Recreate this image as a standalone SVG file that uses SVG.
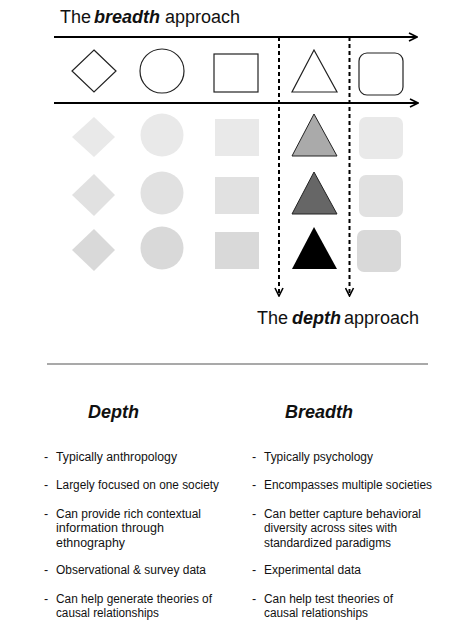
<svg xmlns="http://www.w3.org/2000/svg" width="474" height="636" viewBox="0 0 474 636">
<style>
text{font-family:"Liberation Sans",Arial,sans-serif;fill:#111}
.t{font-size:18px}
.bi{font-weight:bold;font-style:italic}
.b{font-size:12.5px}
.o{fill:#fff;stroke:#222;stroke-width:1.2}
.g2{fill:#e9e9e9}
.g3{fill:#e1e1e1}
.g4{fill:#d9d9d9}
.ax{stroke:#000;stroke-width:2;fill:none}
.dx{stroke:#000;stroke-width:2;fill:none;stroke-dasharray:4 3}
</style>
<defs>
<marker id="ah" viewBox="0 0 10 10" refX="9" refY="5" markerWidth="5" markerHeight="5" orient="auto" markerUnits="strokeWidth">
<path d="M1,1 L9,5 L1,9" fill="none" stroke="#000" stroke-width="1.6"/>
</marker>
</defs>
<rect width="474" height="636" fill="#fff"/>
<g id="title-breadth">
<text class="t" y="23"><tspan x="60">The</tspan><tspan x="94" class="bi">breadth</tspan><tspan x="165">approach</tspan></text>
</g>
<g id="row1">
<polygon class="o" points="94,50 116,71 94,92 72,71"/>
<circle class="o" cx="162" cy="71" r="22"/>
<rect class="o" x="214" y="54" width="44" height="38"/>
<polygon class="o" points="314,50 337,92 292,92"/>
<rect class="o" x="359" y="53" width="44" height="42" rx="8"/>
</g>
<g id="row2">
<polygon class="g2" points="94,117 115,137 94,157 72,137"/>
<circle class="g2" cx="162" cy="135" r="21.5"/>
<rect class="g2" x="215" y="119" width="44" height="37"/>
<polygon points="314,114 337,156 292,156" fill="#aaa" stroke="#222" stroke-width="1"/>
<rect class="g2" x="359" y="117" width="44" height="42" rx="7"/>
</g>
<g id="row3">
<polygon class="g3" points="94,174 115,195 94,216 72,195"/>
<circle class="g3" cx="162" cy="193" r="21.5"/>
<rect class="g3" x="215" y="177" width="44" height="37"/>
<polygon points="314,172 337,214 292,214" fill="#666" stroke="#222" stroke-width="1"/>
<rect class="g3" x="359" y="175" width="44" height="42" rx="7"/>
</g>
<g id="row4">
<polygon class="g4" points="94,229 115,250 94,271 72,250"/>
<circle class="g4" cx="162" cy="248" r="21.5"/>
<rect class="g4" x="215" y="232" width="44" height="37"/>
<polygon points="314,227 337,269 292,269" fill="#000"/>
<rect class="g4" x="357" y="230" width="44" height="42" rx="7"/>
</g>
<g id="connectors">
<line class="ax" x1="54" y1="37" x2="417" y2="37" marker-end="url(#ah)"/>
<line class="ax" x1="54" y1="103" x2="418" y2="103" marker-end="url(#ah)"/>
<line class="dx" x1="279" y1="37" x2="279" y2="296" marker-end="url(#ah)"/>
<line class="dx" x1="349.5" y1="37" x2="349.5" y2="296" marker-end="url(#ah)"/>
</g>
<g id="title-depth">
<text class="t" y="324"><tspan x="257">The</tspan><tspan x="292" class="bi">depth</tspan><tspan x="344">approach</tspan></text>
</g>
<line x1="47" y1="364" x2="428" y2="364" stroke="#555" stroke-width="1.2"/>
<g id="depth-list">
<text class="t bi" x="88" y="418">Depth</text>
<g class="b">
<text class="b" x="44" y="461">-</text><text class="b" x="56" y="461" textLength="121" lengthAdjust="spacingAndGlyphs">Typically anthropology</text>
<text class="b" x="44" y="489">-</text><text class="b" x="56" y="489" textLength="163" lengthAdjust="spacingAndGlyphs">Largely focused on one society</text>
<text class="b" x="44" y="518">-</text><text class="b" x="56" y="518" textLength="145" lengthAdjust="spacingAndGlyphs">Can provide rich contextual</text>
<text class="b" x="56" y="532" textLength="108" lengthAdjust="spacingAndGlyphs">information through</text>
<text class="b" x="56" y="547" textLength="69" lengthAdjust="spacingAndGlyphs">ethnography</text>
<text class="b" x="44" y="574">-</text><text class="b" x="56" y="574" textLength="150" lengthAdjust="spacingAndGlyphs">Observational &amp; survey data</text>
<text class="b" x="44" y="603">-</text><text class="b" x="56" y="603" textLength="156" lengthAdjust="spacingAndGlyphs">Can help generate theories of</text>
<text class="b" x="56" y="617" textLength="103" lengthAdjust="spacingAndGlyphs">causal relationships</text>
</g>
</g>
<g id="breadth-list">
<text class="t bi" x="285" y="418">Breadth</text>
<text class="b" x="252" y="461">-</text><text class="b" x="264" y="461" textLength="109" lengthAdjust="spacingAndGlyphs">Typically psychology</text>
<text class="b" x="252" y="489">-</text><text class="b" x="264" y="489" textLength="168" lengthAdjust="spacingAndGlyphs">Encompasses multiple societies</text>
<text class="b" x="252" y="518">-</text><text class="b" x="264" y="518" textLength="157" lengthAdjust="spacingAndGlyphs">Can better capture behavioral</text>
<text class="b" x="264" y="532" textLength="133" lengthAdjust="spacingAndGlyphs">diversity across sites with</text>
<text class="b" x="264" y="547" textLength="127" lengthAdjust="spacingAndGlyphs">standardized paradigms</text>
<text class="b" x="252" y="574">-</text><text class="b" x="264" y="574" textLength="97" lengthAdjust="spacingAndGlyphs">Experimental data</text>
<text class="b" x="252" y="603">-</text><text class="b" x="264" y="603" textLength="129" lengthAdjust="spacingAndGlyphs">Can help test theories of</text>
<text class="b" x="264" y="617" textLength="104" lengthAdjust="spacingAndGlyphs">causal relationships</text>
</g>
</svg>
